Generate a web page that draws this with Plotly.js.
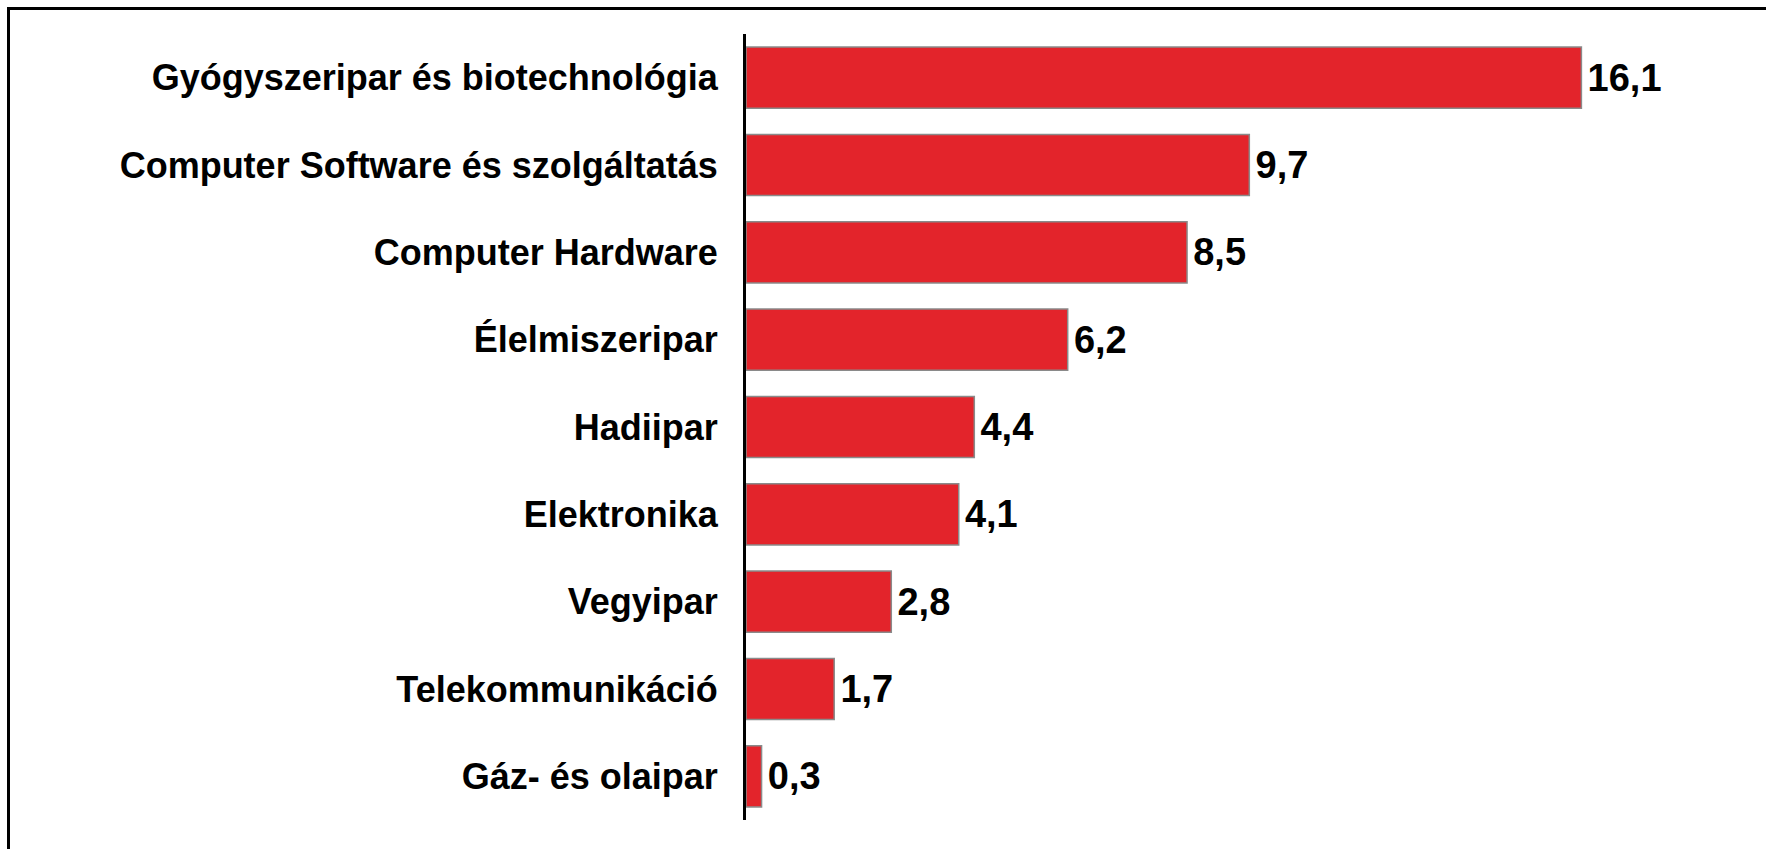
<!DOCTYPE html>
<html>
<head>
<meta charset="utf-8">
<script src="https://cdn.plot.ly/plotly-3.0.1.min.js"></script>
<style>
  html, body { margin: 0; padding: 0; background: #fff; overflow: hidden; }
  #chart { width: 1766px; height: 849px; }
  #frame { position: absolute; left: 7px; top: 7px; width: 1820px; height: 900px;
           border: 3px solid #000; pointer-events: none; box-sizing: border-box; }
</style>
</head>
<body>
<div id="chart"></div>
<div id="frame"></div>
<script>
const categories = [
  "Gyógyszeripar és biotechnológia",
  "Computer Software és szolgáltatás",
  "Computer Hardware",
  "Élelmiszeripar",
  "Hadiipar",
  "Elektronika",
  "Vegyipar",
  "Telekommunikáció",
  "Gáz- és olaipar"
];
const values = [16.1, 9.7, 8.5, 6.2, 4.4, 4.1, 2.8, 1.7, 0.3];

const FONT = "'Liberation Sans', Arial, sans-serif";

const trace = {
  type: "bar",
  orientation: "h",
  x: values,
  y: categories,
  marker: { color: "#E3242B", line: { color: "#8a8a8a", width: 1.5 } },
  texttemplate: "\u200A%{x:.1f}",
  textposition: "outside",
  textfont: { family: FONT, size: 38, color: "#000", weight: "bold" },
  cliponaxis: false,
  hoverinfo: "none"
};

const layout = {
  width: 1766,
  height: 849,
  margin: { l: 746, r: 86, t: 34, b: 29 },
  paper_bgcolor: "#fff",
  plot_bgcolor: "#fff",
  separators: ", ",
  bargap: 0.3,
  showlegend: false,
  xaxis: { visible: false, range: [0, 18], fixedrange: true },
  yaxis: {
    type: "category",
    autorange: "reversed",
    showline: true,
    linecolor: "#000",
    linewidth: 3,
    showgrid: false,
    zeroline: false,
    ticks: "",
    ticklabelstandoff: 18,
    tickfont: { family: FONT, size: 36, color: "#000", weight: "bold" },
    fixedrange: true
  }
};

Plotly.newPlot("chart", [trace], layout, { displayModeBar: false, staticPlot: true });
</script>
</body>
</html>
